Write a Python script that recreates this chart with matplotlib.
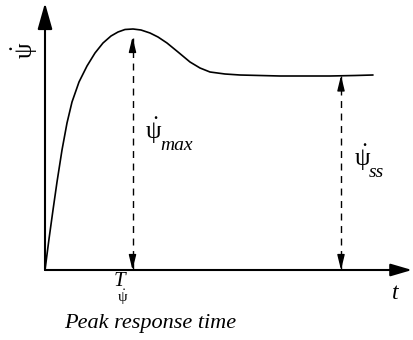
import numpy as np
import matplotlib
matplotlib.use("Agg")
import matplotlib.pyplot as plt

# ── Fonts ────────────────────────────────────────────────────────────────
plt.rcParams["font.family"] = ["Liberation Serif", "DejaVu Serif"]
plt.rcParams["mathtext.fontset"] = "custom"
plt.rcParams["mathtext.rm"] = "Liberation Serif"
plt.rcParams["mathtext.it"] = "Liberation Serif:italic"
plt.rcParams["mathtext.bf"] = "Liberation Serif:bold"

# ── Step response of yaw rate (time, response) ───────────────────────────
t = [0, 4, 8, 12, 17, 22, 27, 34, 42, 50, 58, 66, 73, 80, 88, 96, 105,
     113, 122, 133, 145, 155, 165, 180, 195, 215, 235, 260, 285, 310, 328]
r = [0, 31, 60, 88, 120, 147, 168, 188, 204, 217, 227, 234, 238, 240.5,
     241, 240, 237, 233, 227, 218, 208, 202, 198, 196, 195, 194.5, 194,
     194, 194, 194.5, 195]

t_peak = 87.5      # peak response time
r_max = 241        # peak yaw rate
t_ss = 296         # where the steady-state gap is marked
r_ss = 194.5       # steady-state yaw rate

PSI = r"$\dot{\mathrm{\psi}}$"

fig = plt.figure(figsize=(4.13, 3.40), dpi=100)
ax = fig.add_axes([0, 0, 1, 1])
ax.set_xlim(-45, 368)
ax.set_ylim(-70, 270)
ax.axis("off")

# axes with arrow heads
ax.annotate("", xy=(0, 267), xytext=(0, 0),
            arrowprops=dict(arrowstyle="-|>,head_length=1.6,head_width=0.45",
                            color="black", lw=1.5, shrinkA=0, shrinkB=0))
ax.annotate("", xy=(367, 0), xytext=(0, 0),
            arrowprops=dict(arrowstyle="-|>,head_length=1.3,head_width=0.38",
                            color="black", lw=1.5, shrinkA=0, shrinkB=0))

# response curve
ax.plot(t, r, color="black", lw=1.2, solid_capstyle="round")


def dashed_gap(x, top, gap_top=8):
    ax.plot([x, x], [0, top - gap_top], color="black", lw=1.0,
            linestyle=(0, (5, 4)))
    head = dict(arrowstyle="-|>,head_length=0.9,head_width=0.22",
                color="black", lw=1.0, shrinkA=0, shrinkB=0)
    ax.annotate("", xy=(x, top - gap_top), xytext=(x, top - gap_top - 10),
                arrowprops=head)
    ax.annotate("", xy=(x, 0), xytext=(x, 10), arrowprops=head)


def psi_label(x, y, sub, size=18):
    # psi-dot with a subscript set lower than mathtext would place it
    ax.text(x, y, PSI, fontsize=size, ha="left", va="baseline")
    ax.text(x + 15, y - 11, sub, fontsize=size * 0.78, style="italic",
            ha="left", va="baseline")


dashed_gap(t_peak, r_max)
dashed_gap(t_ss, r_ss, gap_top=0)

# labels
ax.text(-20, 220, PSI, fontsize=18, rotation=90, ha="center", va="center")
psi_label(100, 131, "max")
psi_label(309, 104, "ss")
ax.text(t_peak - 13.5, -16.5, "T", fontsize=15, style="italic",
        ha="center", va="baseline")
ax.text(t_peak - 9.5, -32, PSI, fontsize=11, ha="center", va="baseline")
ax.text(350, -29, "t", fontsize=17, style="italic", ha="center",
        va="baseline")
ax.text(105, -58, "Peak response time", fontsize=16, style="italic",
        ha="center", va="baseline")

plt.savefig("out.png", dpi=100)
